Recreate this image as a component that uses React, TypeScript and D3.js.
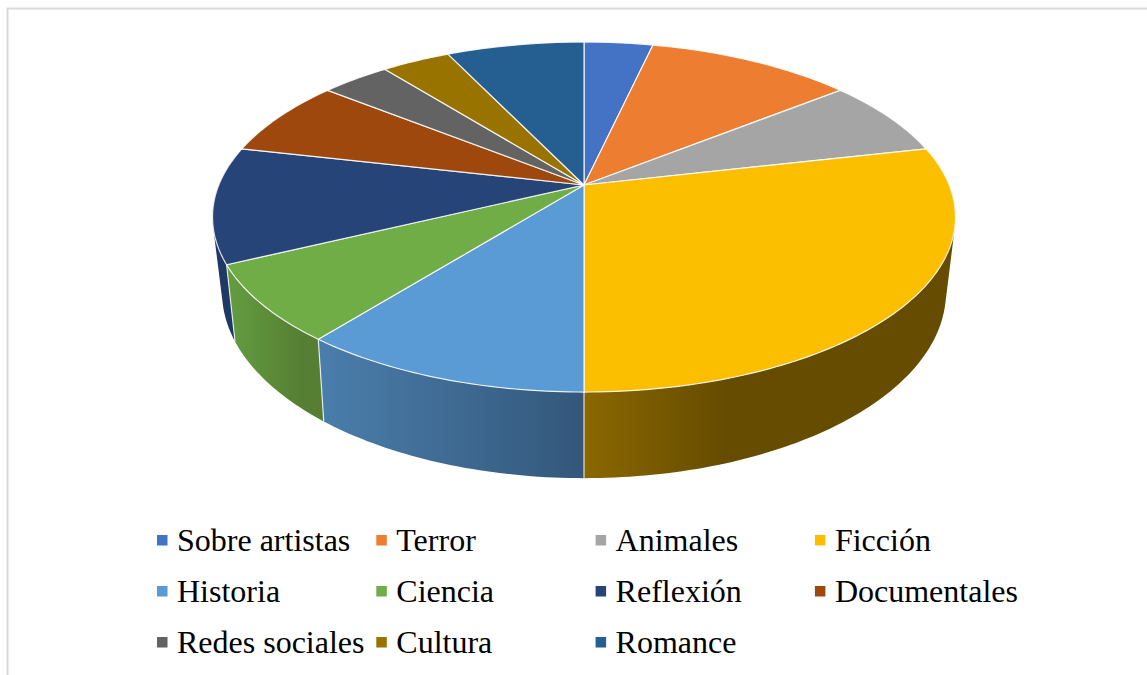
import React from "react";
import * as d3 from "d3";

const categories = ["Sobre artistas", "Terror", "Animales", "Ficción", "Historia", "Ciencia", "Reflexión", "Documentales", "Redes sociales", "Cultura", "Romance"];
const values = [1, 3, 2, 8, 3, 2, 3, 2, 1, 1, 2];
const colors = ["#4472c4", "#ed7d31", "#a5a5a5", "#fbbf00", "#5b9bd5", "#70ad47", "#264478", "#9e480e", "#636363", "#997300", "#255e91"];
// wall shading per slice: [left colour, right colour, left x, right x]
const wallShades: { [key: string]: [string, string, number, number] } = {
    "Ficción": ["#8a6700", "#664c00", 584, 725],
    "Historia": ["#4a7dab", "#33577a", 323, 584],
    "Ciencia": ["#639c40", "#567f33", 230, 300],
    "Reflexión": ["#1f3864", "#1f3864", 212, 240],
};

const width = 1147;
const height = 675;
const cx = 584;

// perspective disc: the rim is a circle seen through a projective map
type Disc = { r: number; a: number; b: number; c: number };
const topDisc: Disc = { r: 365.2, a: -135.3, b: 185, c: 0.183 };
const baseDisc: Disc = { r: 355.4, a: -130.6, b: 256.7, c: 0.19 };

const project = (disc: Disc, angle: number): [number, number] => {
    const x = Math.sin(angle);
    const y = Math.cos(angle);
    const w = 1 + disc.c * y;
    return [cx + disc.r * x / w, (disc.a * y + disc.b) / w];
};

const sampleAngles = (start: number, end: number): number[] => {
    const steps = Math.max(2, Math.ceil((end - start) / (Math.PI / 180)));
    return d3.range(steps + 1).map(i => start + (end - start) * i / steps);
};

const line = d3.line<[number, number]>();

const pieAngles = d3.pie<number>().sort(null).startAngle(0).endAngle(2 * Math.PI)(values);

const wallMin = 80 * Math.PI / 180;
const wallMax = 280 * Math.PI / 180;

const legendX = d3.scaleLinear().domain([0, 1]).range([157, 376.3]);
const legendY = d3.scaleLinear().domain([0, 1]).range([551, 602]);

const App = () => {
    const slices = pieAngles.map((d, i) => ({ name: categories[i], color: colors[i], start: d.startAngle, end: d.endAngle, index: i }));
    const walls = slices
        .filter(s => s.end > wallMin && s.start < wallMax)
        .sort((p, q) => Math.abs((p.start + p.end) / 2 - Math.PI) > Math.abs((q.start + q.end) / 2 - Math.PI) ? -1 : 1);

    return <svg width={width} height={height} style={{ position: "absolute", left: 0, top: 0 }}>
        <defs>
            {walls.map(s => {
                const shade = wallShades[s.name];
                return <linearGradient key={s.name} id={`wall-${s.index}`} gradientUnits="userSpaceOnUse" x1={shade[2]} x2={shade[3]} y1={0} y2={0}>
                    <stop offset="0" stopColor={shade[0]} />
                    <stop offset="1" stopColor={shade[1]} />
                </linearGradient>;
            })}
        </defs>
        <rect width={width} height={height} fill="#fff" />
        <path d={`M7.5,675V8.5H${width}`} fill="none" stroke="#d9d9d9" strokeWidth={2} />

        {walls.map(s => {
            const angles = sampleAngles(Math.max(s.start, wallMin), Math.min(s.end, wallMax));
            const quads = d3.pairs(angles).map(([p, q]) => {
                const quad: [number, number][] = [project(topDisc, p), project(topDisc, q), project(baseDisc, q), project(baseDisc, p)];
                // keep every quad wound the same way so overlaps do not cancel out
                if (d3.polygonArea(quad) < 0) quad.reverse();
                return line(quad) + "Z";
            });
            return <path key={s.name} d={quads.join("")} fill={`url(#wall-${s.index})`} />;
        })}
        {walls.filter(s => s.start > wallMin).map(s =>
            <path key={s.name} d={line([project(topDisc, s.start), project(baseDisc, s.start)]) ?? ""} stroke="#fff" strokeOpacity={0.8} strokeWidth={1.2} fill="none" />
        )}

        {slices.map(s => {
            const rim = sampleAngles(s.start, s.end).map(a => project(topDisc, a));
            const d = line([[cx, topDisc.b], ...rim]) + "Z";
            return <path key={s.name} d={d} fill={s.color} stroke="#fff" strokeOpacity={0.85} strokeWidth={1.2} strokeLinejoin="round" />;
        })}

        {categories.map((name, i) => {
            const col = i % 4;
            const row = Math.floor(i / 4);
            return <g key={name}>
                <rect x={legendX(col)} y={legendY(row) - 16} width={10.5} height={10.5} fill={colors[i]} />
                <text x={legendX(col) + 20} y={legendY(row)} fontFamily="'Liberation Serif'" fontSize={32} fill="#000">{name}</text>
            </g>;
        })}
    </svg>;
};

export default App;
